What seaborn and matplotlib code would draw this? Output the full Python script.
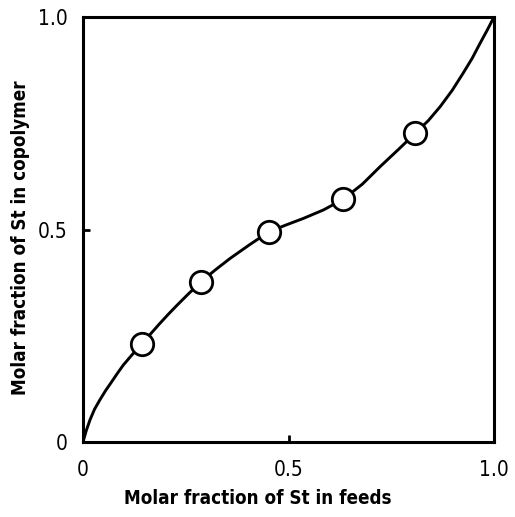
"""
Copolymer composition curve: St in copolymer vs St in feeds.
"""

import matplotlib
matplotlib.use("Agg")
import matplotlib.pyplot as plt
from matplotlib import font_manager
import seaborn as sns
import pandas as pd

# measured points
feed_st = [0.143, 0.287, 0.453, 0.633, 0.808]
copoly_st = [0.230, 0.377, 0.495, 0.571, 0.726]

# fitted curve
curve_x = [0.0, 0.008, 0.017, 0.028, 0.041, 0.055, 0.070, 0.084, 0.098, 0.120,
           0.143, 0.165, 0.187, 0.208, 0.228, 0.257, 0.287, 0.322, 0.358, 0.405,
           0.453, 0.495, 0.536, 0.585, 0.633, 0.680, 0.723, 0.766, 0.808, 0.840,
           0.869, 0.898, 0.925, 0.947, 0.966, 0.984, 1.0]
curve_y = [0.0, 0.027, 0.052, 0.077, 0.099, 0.121, 0.142, 0.162, 0.181, 0.206,
           0.230, 0.255, 0.279, 0.301, 0.321, 0.349, 0.377, 0.405, 0.432, 0.464,
           0.495, 0.511, 0.526, 0.546, 0.571, 0.607, 0.648, 0.687, 0.726, 0.756,
           0.789, 0.827, 0.868, 0.903, 0.938, 0.970, 1.0]

tick_vals = [0, 0.5, 1.0]
tick_labels = ["0", "0.5", "1.0"]

sns.set_style("ticks")
installed = {f.name for f in font_manager.fontManager.ttflist}
fam = [f for f in ["Liberation Sans Narrow", "DejaVu Sans Condensed", "DejaVu Sans"] if f in installed]
plt.rcParams["font.family"] = fam
plt.rcParams["font.stretch"] = "condensed"
plt.rcParams["text.color"] = "black"
plt.rcParams["axes.labelcolor"] = "black"
plt.rcParams["xtick.color"] = "black"
plt.rcParams["ytick.color"] = "black"

pts = pd.DataFrame({"feed": feed_st, "copoly": copoly_st})
fit = pd.DataFrame({"feed": curve_x, "copoly": curve_y})

fig = plt.figure(figsize=(5.15, 5.17), dpi=100)
ax = fig.add_axes([83 / 515, 75 / 517, 411 / 515, 425 / 517])

sns.lineplot(data=fit, x="feed", y="copoly", sort=False, color="black",
             linewidth=2.1, ax=ax, zorder=2)
sns.scatterplot(data=pts, x="feed", y="copoly", s=260, facecolor="white",
                edgecolor="black", linewidth=2.0, ax=ax, zorder=3)

ax.set_xlim(0, 1)
ax.set_ylim(0, 1)
ax.set_xticks(tick_vals)
ax.set_xticklabels(tick_labels)
ax.set_yticks(tick_vals)
ax.set_yticklabels(tick_labels)
ax.tick_params(direction="in", length=5, width=2, labelsize=15)
ax.tick_params(axis="x", pad=13)
ax.tick_params(axis="y", pad=11)

for side in ["top", "right", "left", "bottom"]:
    ax.spines[side].set_visible(True)
    ax.spines[side].set_linewidth(2.2)
    ax.spines[side].set_color("black")

ax.set_xlabel("Molar fraction of St in feeds", fontsize=13.5, fontweight="bold")
ax.set_ylabel("Molar fraction of St in copolymer", fontsize=13.5, fontweight="bold")
ax.xaxis.set_label_coords(0.426, -0.11)
ax.yaxis.set_label_coords(-0.13, 0.48)

plt.savefig("out.png", dpi=100)
plt.close()
